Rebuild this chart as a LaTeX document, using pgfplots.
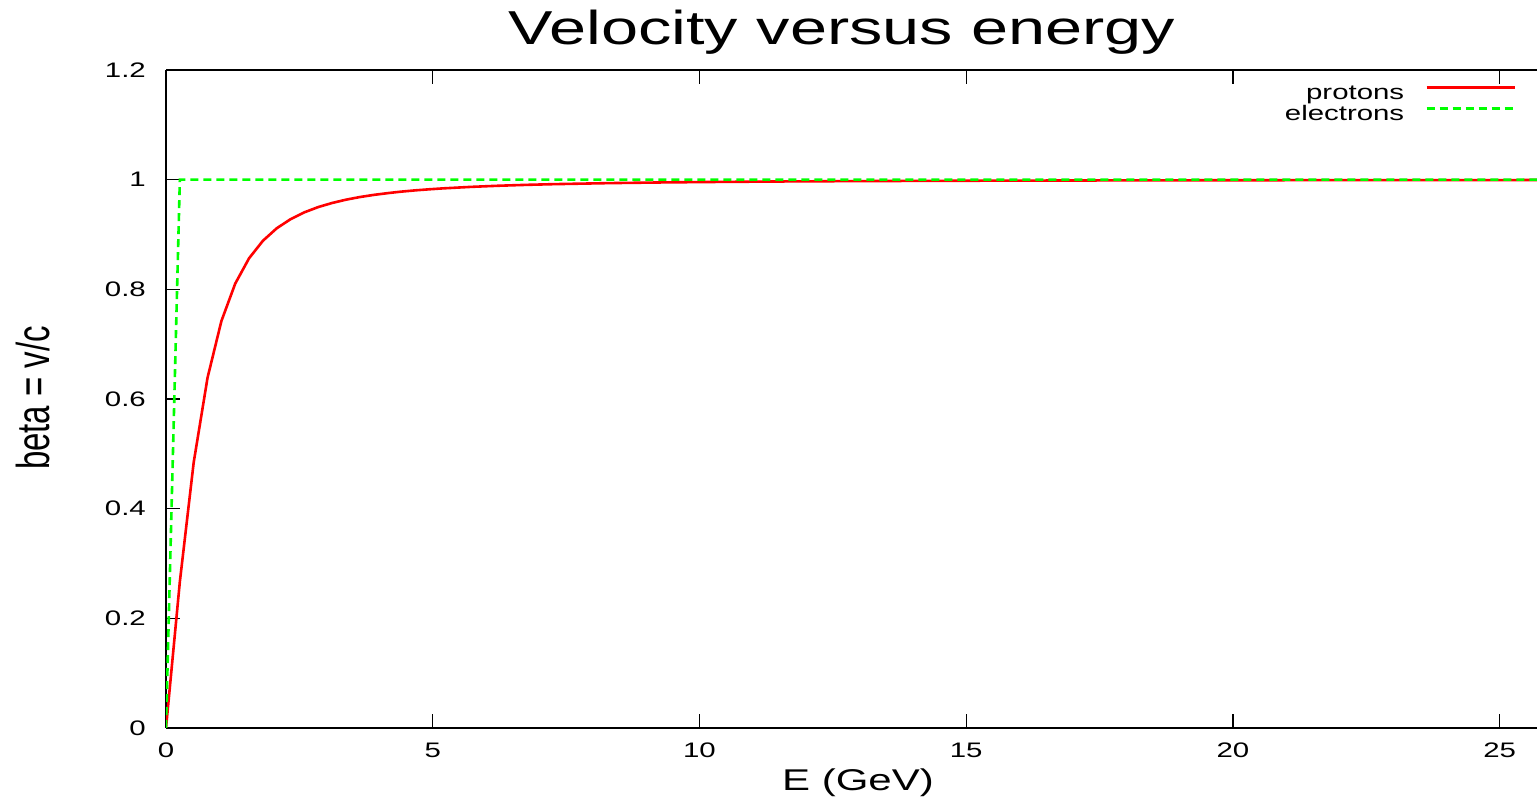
\documentclass[border=0pt]{standalone}
\usepackage{fontspec}
\setmainfont{Liberation Sans}[FakeStretch=1.4]
\newfontfamily\ylfont{Liberation Sans}
\usepackage{pgfplots}
\pgfplotsset{compat=1.18}
\pgfplotsset{
  legend image code/.code={\draw[#1] (0bp,7bp) -- (88bp,7bp);}
}
\begin{document}
\begin{tikzpicture}
\begin{axis}[
  at={(166bp,73bp)}, anchor=south west,
  scale only axis, width=1371bp, height=658bp,
  xmin=0, xmax=25.7, ymin=0, ymax=1.2,
  xtick={0,5,10,15,20,25},
  ytick={0,0.2,0.4,0.6,0.8,1,1.2},
  axis y line*=left, y axis line style={-},
  ytick pos=left, xtick pos=both,
  tick align=inside, major tick length=14bp,
  axis line style={line width=1.5bp, black},
  tick style={line width=1.2bp, black},
  /pgf/number format/assume math mode=true,
  tick label style={font=\fontsize{21bp}{21bp}\selectfont, inner sep=0pt},
  yticklabel style={anchor=east, xshift=-20bp},
  xticklabel style={anchor=center, yshift=-22bp},
  legend style={at={(1,1)}, anchor=north east, xshift=-21bp, yshift=-14bp,
    draw=none, fill=none, inner sep=0pt, column sep=21bp, row sep=0pt,
    font=\fontsize{21bp}{21bp}\selectfont,
    nodes={inner sep=0pt, text height=15bp, text depth=6bp}},
  legend cell align=right, legend plot pos=right,
]
\addplot[red, line width=2.6bp] coordinates {
(0,0) (0.2596,0.2667) (0.5192,0.4843) (0.7788,0.6388) (1.0384,0.7421)
(1.2980,0.8105) (1.5576,0.8567) (1.8172,0.8886) (2.0768,0.9114)
(2.3364,0.9280) (2.5960,0.9405) (2.8556,0.9501) (3.1152,0.9575)
(3.3748,0.9635) (3.6344,0.9683) (3.8940,0.9722) (4.1536,0.9754)
(4.4132,0.9782) (4.6728,0.9805) (4.9324,0.9824) (5.1920,0.9841)
(5.7112,0.9868) (6.2304,0.9889) (6.7496,0.9905) (7.2688,0.9918)
(8.3072,0.9937) (9.3456,0.9950) (10.384,0.9959) (11.682,0.9968)
(12.980,0.9974) (15.576,0.9982) (18.172,0.9987) (20.768,0.9990)
(23.364,0.9992) (25.700,0.9993)
};
\addlegendentry{protons}
\addplot[color={rgb,255:red,0;green,255;blue,0}, line width=2.6bp, dash pattern=on 8bp off 5bp] coordinates {
(0,0) (0.2596,1.0) (25.7,1.0)
};
\addlegendentry{electrons}
\end{axis}
\node[anchor=base, font=\fontsize{47.6bp}{47.6bp}\selectfont] at (842bp,756bp) {Velocity versus energy};
\node[anchor=base, font=\fontsize{30bp}{30bp}\selectfont] at (858bp,11bp) {E (GeV)};
\node[rotate=90, anchor=center] at (33bp,403bp) {\scalebox{1}[1.4]{\ylfont\fontsize{33bp}{33bp}\selectfont beta = v/c}};
\pgfresetboundingbox
\path[use as bounding box] (0,0) rectangle (1537bp,801bp);
\end{tikzpicture}
\end{document}
